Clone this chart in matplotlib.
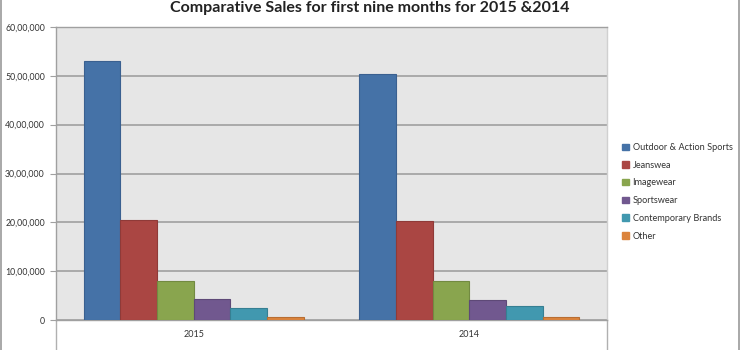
import matplotlib.pyplot as plt
import numpy as np
from matplotlib.patches import Patch

# ---------------- DATA ----------------
years = ["2015", "2014"]
segments = ["Outdoor & Action Sports", "Jeanswea", "Imagewear",
            "Sportswear", "Contemporary Brands", "Other"]
sales_2015 = [5300000, 2050000, 805000, 430000, 250000, 70000]
sales_2014 = [5040000, 2030000, 790000, 410000, 280000, 70000]
y_ticks = [0, 1000000, 2000000, 3000000, 4000000, 5000000, 6000000]
y_tick_labels = ["0", "10,00,000", "20,00,000", "30,00,000",
                 "40,00,000", "50,00,000", "60,00,000"]

colors = ["#4572A7", "#AA4643", "#89A54E", "#71588F", "#4198AF", "#DB843D"]
edges = ["#3A6090", "#8F3A38", "#728A41", "#5E4977", "#367F92", "#B86E33"]

plt.rcParams['font.family'] = ['Lato', 'DejaVu Sans']

fig = plt.figure(figsize=(7.4, 3.5), dpi=100)
ax = fig.add_axes([0.0757, 0.0857, 0.7446, 0.8371])
ax.set_facecolor("#E6E6E6")

x = np.arange(len(years))
width = 0.1331
values = np.array([sales_2015, sales_2014]).T
for i, seg in enumerate(segments):
    ax.bar(x + (i - 2.5) * width, values[i], width, color=colors[i],
           edgecolor=edges[i], linewidth=0.8, label=seg, zorder=3)

ax.set_xlim(-0.5, 1.5)
ax.set_ylim(0, 6000000)
ax.set_yticks(y_ticks)
ax.set_yticklabels(y_tick_labels, fontsize=6.3, color="#333333")
ax.set_xticks(x)
ax.set_xticklabels(years, fontsize=6.5, color="#333333")
ax.tick_params(axis='x', length=0, pad=7)
ax.tick_params(axis='y', length=4, color="#A0A0A0", pad=4)
ax.grid(axis='y', color="#A0A0A0", linewidth=1.2, zorder=1)
for s in ax.spines.values():
    s.set_color("#A0A0A0")
    s.set_linewidth(1.0)
ax.spines['right'].set_color("#D0D0D0")

# plot-area border continues below the axis
for xa in (0, 1):
    ax.plot([xa, xa], [0, -0.15], transform=ax.transAxes, clip_on=False,
            color="#B0B0B0", linewidth=1.0)

fig.suptitle("Comparative Sales for first nine months for 2015 &2014",
             fontsize=11.5, fontweight='bold', color="#222222", y=0.998)

handles = [Patch(facecolor=c, edgecolor=c) for c in colors]
fig.legend(handles, segments, loc='upper left', bbox_to_anchor=(0.83, 0.615),
           frameon=False, fontsize=6.6, handlelength=0.7, handleheight=0.7,
           handletextpad=0.4, labelspacing=0.95, labelcolor="#333333")

# outer chart border
fig.add_artist(plt.Line2D([0.002, 0.002], [0, 1], color="#999999", linewidth=1.2))
fig.add_artist(plt.Line2D([0.998, 0.998], [0, 1], color="#999999", linewidth=1.2))

fig.savefig("out.png", dpi=100)
